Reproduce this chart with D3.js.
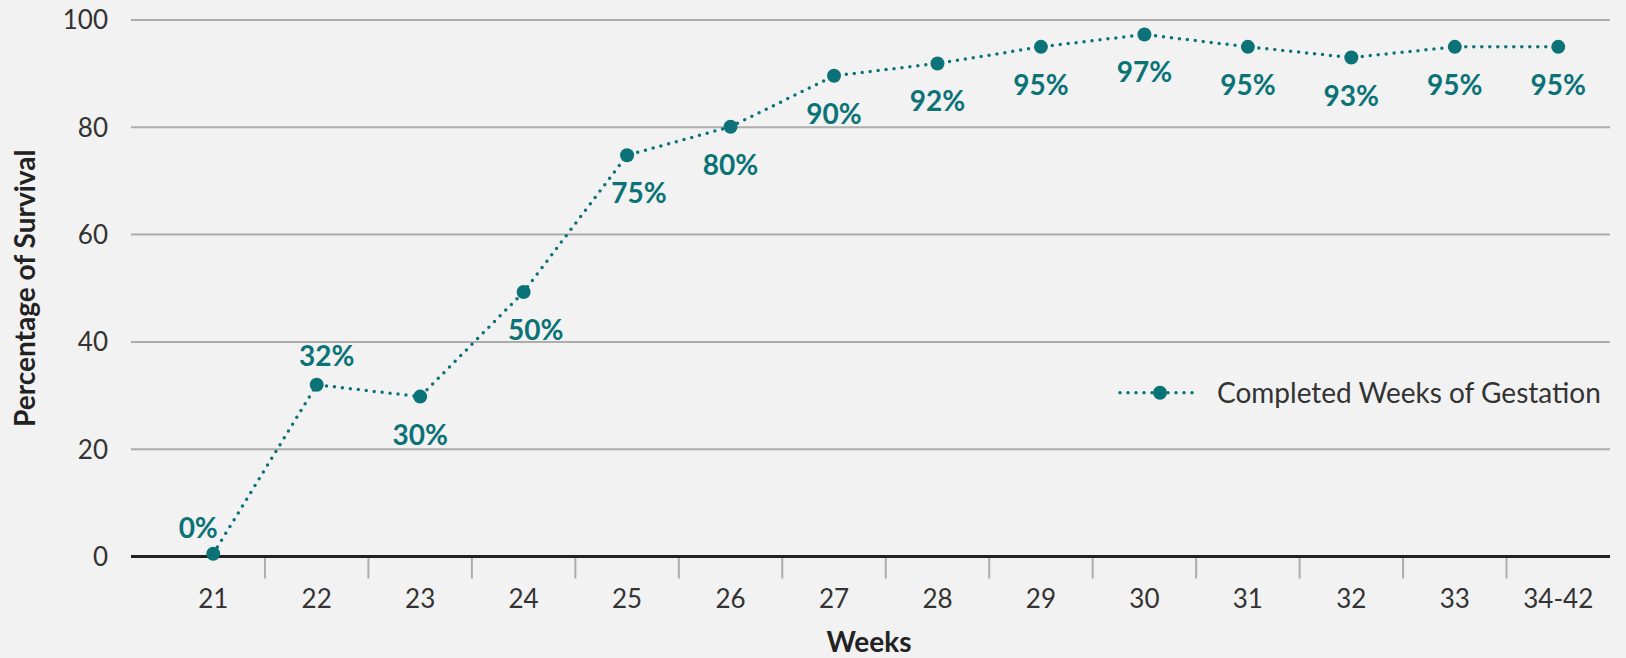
<!DOCTYPE html>
<html>
<head>
<meta charset="utf-8" />
<title>Survival by completed weeks of gestation</title>
<style>
  html, body { margin: 0; padding: 0; background: #f2f2f2; }
  svg { display: block; font-family: Lato, "Open Sans", sans-serif; }
</style>
</head>
<body>
<svg id="chart"></svg>
<script src="https://d3js.org/d3.v7.min.js"></script>
<script>
var width = 1626;
var height = 658;

// values
var weeks = ["21", "22", "23", "24", "25", "26", "27", "28", "29", "30", "31", "32", "33", "34-42"];
var survival = [0.5, 32, 29.8, 49.3, 74.8, 80.1, 89.6, 91.9, 95, 97.3, 95, 93, 95, 95];
var labels = ["0%", "32%", "30%", "50%", "75%", "80%", "90%", "92%", "95%", "97%", "95%", "93%", "95%", "95%"];
// where each value label sits relative to its point
var placement = ["aboveLeft", "above", "below", "belowRight", "belowRight", "below", "below",
                 "below", "below", "below", "below", "below", "below", "below"];
var yTicks = [0, 20, 40, 60, 80, 100];
var seriesName = "Completed Weeks of Gestation";

var teal = "#0b7377";

var svg = d3.select("#chart").attr("width", width).attr("height", height);

var x = d3.scaleBand().domain(weeks).range([161.5, 1610]).padding(0);
var y = d3.scaleLinear().domain([0, 100]).range([556.5, 20]);
var gridLeft = 131, gridRight = 1610;

// gridlines
svg.append("g")
  .selectAll("line")
  .data(yTicks.filter(d => d > 0))
  .join("line")
  .attr("x1", gridLeft).attr("x2", gridRight)
  .attr("y1", d => y(d)).attr("y2", d => y(d))
  .attr("stroke", "#adadad").attr("stroke-width", 2);

// y tick labels
svg.append("g")
  .selectAll("text")
  .data(yTicks)
  .join("text")
  .attr("x", 108)
  .attr("y", d => y(d))
  .attr("dy", "0.36em")
  .attr("text-anchor", "end")
  .attr("fill", "#333")
  .style("font-size", "26px")
  .text(d => d);

// x separators between categories
var bounds = weeks.slice(1).map(w => x(w));
svg.append("g")
  .selectAll("line")
  .data(bounds)
  .join("line")
  .attr("x1", d => d).attr("x2", d => d)
  .attr("y1", y(0)).attr("y2", y(0) + 22)
  .attr("stroke", "#adadad").attr("stroke-width", 2);

// x tick labels
svg.append("g")
  .selectAll("text")
  .data(weeks)
  .join("text")
  .attr("x", d => x(d) + x.bandwidth() / 2)
  .attr("y", 608)
  .attr("text-anchor", "middle")
  .attr("fill", "#333")
  .style("font-size", "26px")
  .text(d => d);

// baseline
svg.append("line")
  .attr("x1", gridLeft).attr("x2", gridRight)
  .attr("y1", y(0)).attr("y2", y(0))
  .attr("stroke", "#222").attr("stroke-width", 3);

// axis titles
svg.append("text")
  .attr("transform", "translate(35," + ((y(0) + y(100)) / 2) + ") rotate(-90)")
  .attr("text-anchor", "middle")
  .attr("fill", "#222")
  .style("font-size", "28px")
  .style("font-weight", "bold")
  .text("Percentage of Survival");

svg.append("text")
  .attr("x", 869)
  .attr("y", 652)
  .attr("text-anchor", "middle")
  .attr("fill", "#222")
  .style("font-size", "28px")
  .style("font-weight", "bold")
  .text("Weeks");

// the series
var pts = weeks.map((w, i) => ({ week: w, value: survival[i], label: labels[i], place: placement[i] }));
var cx = d => x(d.week) + x.bandwidth() / 2;

var line = d3.line().x(cx).y(d => y(d.value));

svg.append("path")
  .datum(pts)
  .attr("d", line)
  .attr("fill", "none")
  .attr("stroke", teal)
  .attr("stroke-width", 3.5)
  .attr("stroke-linecap", "round")
  .attr("stroke-dasharray", "0 8");

svg.append("g")
  .selectAll("circle")
  .data(pts)
  .join("circle")
  .attr("cx", cx)
  .attr("cy", d => y(d.value))
  .attr("r", 7)
  .attr("fill", teal);

var offsets = {
  below: [0, 48],
  belowRight: [12, 48],
  above: [10, -19],
  aboveLeft: [-15, -16]
};

svg.append("g")
  .selectAll("text")
  .data(pts)
  .join("text")
  .attr("x", d => cx(d) + offsets[d.place][0])
  .attr("y", d => y(d.value) + offsets[d.place][1])
  .attr("text-anchor", "middle")
  .attr("fill", teal)
  .style("font-size", "28px")
  .style("font-weight", "bold")
  .text(d => d.label);

// legend
var legend = svg.append("g").attr("transform", "translate(1120,392.7)");
legend.append("line")
  .attr("x1", 0).attr("x2", 80)
  .attr("stroke", teal)
  .attr("stroke-width", 3.5)
  .attr("stroke-linecap", "round")
  .attr("stroke-dasharray", "0 8");
legend.append("circle").attr("cx", 40).attr("r", 7).attr("fill", teal);
legend.append("text")
  .attr("x", 97)
  .attr("dy", "0.36em")
  .attr("fill", "#333")
  .style("font-size", "28px")
  .text(seriesName);
</script>
</body>
</html>
